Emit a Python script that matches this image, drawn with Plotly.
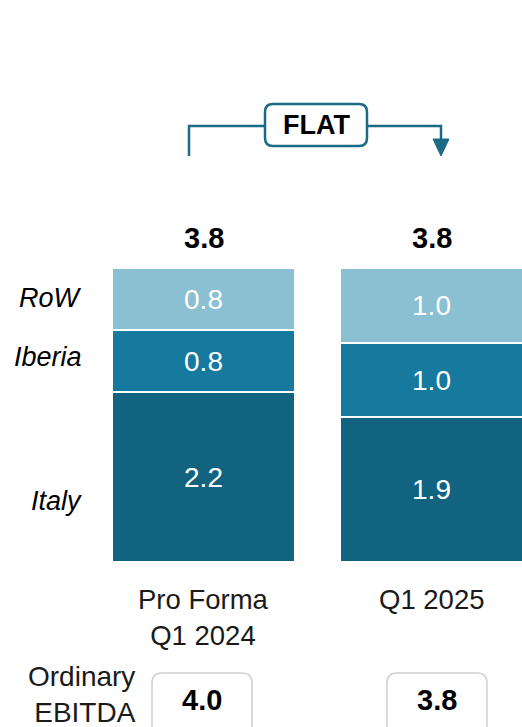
import plotly.graph_objects as go

# ---------------- data ----------------
categories = ["Pro Forma<br>Q1 2024", "Q1 2025"]
segments = ["Italy", "Iberia", "RoW"]
italy = [2.2, 1.87]
iberia = [0.8, 0.96]
row = [0.8, 0.97]
segment_labels = {"Italy": ["2.2", "1.9"], "Iberia": ["0.8", "1.0"], "RoW": ["0.8", "1.0"]}
totals_labels = ["3.8", "3.8"]
ordinary_ebitda = ["4.0", "3.8"]
change_label = "FLAT"

# ---------------- layout constants ----------------
W, H = 522, 727
FONT = "Liberation Sans"
FS_CAT = 27.5
FS_IN = 28
FS_BOLD = 29
FS_ITAL = 27
PX_PER_UNIT = 77.5
BASE_Y = 562.0
PX_PER_CAT = 228.0
X0_PX = 203.5

colors = {"Italy": "#126380", "Iberia": "#16799E", "RoW": "#8BBFD2"}
values = {"Italy": italy, "Iberia": iberia, "RoW": row}


def X(px):
    return px / W


def Y(py):
    return 1 - py / H


fig = go.Figure()
x_idx = list(range(len(categories)))
for seg in segments:
    fig.add_trace(go.Bar(
        x=x_idx, y=values[seg], name=seg,
        marker=dict(color=colors[seg], line=dict(color="white", width=2)),
        width=183 / PX_PER_CAT,
        text=segment_labels[seg], textposition="inside", insidetextanchor="middle",
        textangle=0, constraintext="none",
        insidetextfont=dict(color="white", size=FS_IN, family=FONT),
        hoverinfo="skip",
    ))

annotations = []
shapes = []

# totals above bars
for i in x_idx:
    tot = italy[i] + iberia[i] + row[i]
    annotations.append(dict(x=i, y=tot, xref="x", yref="y", text=f"<b>{totals_labels[i]}</b>",
                            showarrow=False, yanchor="middle", yshift=30,
                            font=dict(size=FS_BOLD, family=FONT, color="black")))
    # category labels
    annotations.append(dict(x=i, y=0, xref="x", yref="y", text=categories[i],
                            showarrow=False, yanchor="top", yshift=-20,
                            font=dict(size=FS_CAT, family=FONT, color="#1a1a1a")))

# left segment labels
for name, py in [("RoW", 298), ("Iberia", 357), ("Italy", 501)]:
    annotations.append(dict(x=X(84), y=Y(py), xref="paper", yref="paper", text=f"<i>{name}</i>",
                            showarrow=False, xanchor="right", yanchor="middle",
                            font=dict(size=FS_ITAL, family=FONT, color="black")))

# Ordinary EBITDA label and boxes
annotations.append(dict(x=X(138), y=Y(694), xref="paper", yref="paper", text="Ordinary<br>EBITDA",
                        showarrow=False, xanchor="right", yanchor="middle", align="right",
                        font=dict(size=28, family=FONT, color="#1a1a1a")))


def rrect(x0, y0, x1, y1, r):
    return (f"M {X(x0 + r)},{Y(y0)} L {X(x1 - r)},{Y(y0)} Q {X(x1)},{Y(y0)} {X(x1)},{Y(y0 + r)} "
            f"L {X(x1)},{Y(y1 - r)} Q {X(x1)},{Y(y1)} {X(x1 - r)},{Y(y1)} "
            f"L {X(x0 + r)},{Y(y1)} Q {X(x0)},{Y(y1)} {X(x0)},{Y(y1 - r)} "
            f"L {X(x0)},{Y(y0 + r)} Q {X(x0)},{Y(y0)} {X(x0 + r)},{Y(y0)} Z")


box_x = [(152, 252), (387, 487)]
for (bx0, bx1), val in zip(box_x, ordinary_ebitda):
    shapes.append(dict(type="path", xref="paper", yref="paper", path=rrect(bx0, 673, bx1, 745, 10),
                       line=dict(color="#D0D0D0", width=1.5), fillcolor="white", layer="above"))
    annotations.append(dict(x=X((bx0 + bx1) / 2), y=Y(700), xref="paper", yref="paper",
                            text=f"<b>{val}</b>", showarrow=False, xanchor="center", yanchor="middle",
                            font=dict(size=FS_BOLD, family=FONT, color="black")))

# FLAT bracket
TEAL = "#1B6A86"
line_y = 126
shapes.append(dict(type="path", xref="paper", yref="paper",
                   path=f"M {X(189)},{Y(156)} L {X(189)},{Y(line_y)} L {X(265)},{Y(line_y)}",
                   line=dict(color=TEAL, width=2.5)))
shapes.append(dict(type="path", xref="paper", yref="paper",
                   path=f"M {X(367)},{Y(line_y)} L {X(441)},{Y(line_y)} L {X(441)},{Y(141)}",
                   line=dict(color=TEAL, width=2.5)))
shapes.append(dict(type="path", xref="paper", yref="paper",
                   path=f"M {X(433)},{Y(139)} L {X(449)},{Y(139)} L {X(441)},{Y(156)} Z",
                   line=dict(color=TEAL, width=1), fillcolor=TEAL))
shapes.append(dict(type="path", xref="paper", yref="paper", path=rrect(265, 104, 367, 146, 8),
                   line=dict(color=TEAL, width=2.5), fillcolor="white"))
annotations.append(dict(x=X(316), y=Y(125), xref="paper", yref="paper", text=f"<b>{change_label}</b>",
                        showarrow=False, xanchor="center", yanchor="middle",
                        font=dict(size=27, family=FONT, color="black")))

fig.update_layout(
    width=W, height=H, barmode="stack", showlegend=False,
    margin=dict(l=0, r=0, t=0, b=0), paper_bgcolor="white", plot_bgcolor="white",
    xaxis=dict(range=[-X0_PX / PX_PER_CAT, (W - X0_PX) / PX_PER_CAT], visible=False, fixedrange=True),
    yaxis=dict(range=[-(H - BASE_Y) / PX_PER_UNIT, BASE_Y / PX_PER_UNIT], visible=False, fixedrange=True),
    annotations=annotations, shapes=shapes, bargap=0,
)
fig.write_html("out.html", config={"displayModeBar": False},
               post_script="document.body.style.margin='0';document.body.style.overflow='hidden';")
